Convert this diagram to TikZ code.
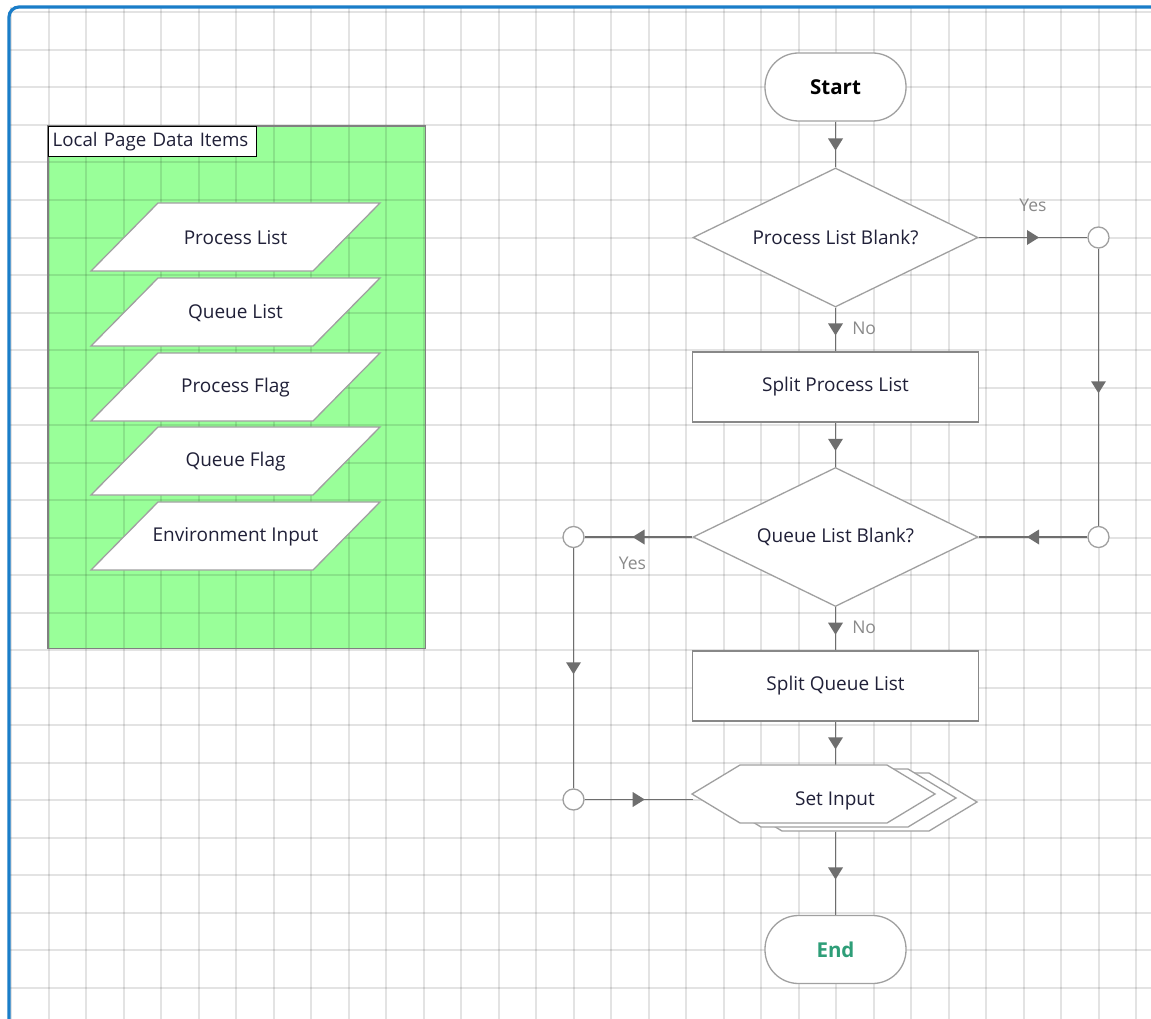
\documentclass[tikz,border=0pt]{standalone}
\usepackage{fontspec}
\setmainfont{Open Sans}
\usetikzlibrary{arrows.meta,decorations.markings,shapes.geometric}
\definecolor{linegray}{HTML}{6E6E6E}
\definecolor{bordergray}{HTML}{A0A0A0}
\definecolor{txt}{HTML}{202038}
\definecolor{lblgray}{HTML}{8A8A8A}
\definecolor{frameblue}{HTML}{1A7DC8}
\definecolor{greenbg}{HTML}{99FF99}
\definecolor{endgreen}{HTML}{2E9E78}
\pgfdeclarelayer{bglayer}
\pgfdeclarelayer{connlayer}
\pgfsetlayers{bglayer,connlayer,main}
\begin{document}
\begin{tikzpicture}[x=1pt,y=-1pt,
  conn/.style={draw=linegray,line width=1.5pt},
  midarr/.style={postaction={decorate},decoration={markings,
     mark=at position 0.5 with {\fill[linegray] (6pt,0pt) -- (-6pt,7.5pt) -- (-6pt,-7.5pt) -- cycle;}}},
  gridline/.style={draw=black,draw opacity=0.11,line width=2pt},
  terminal/.style={draw=bordergray,line width=1.3pt,fill=white,rounded corners=33.5pt,
     minimum width=141pt,minimum height=68pt,font=\fontsize{20.5}{24}\selectfont\bfseries},
  decision/.style={diamond,aspect=2,draw=bordergray,line width=1.3pt,fill=white,
     minimum width=285pt,minimum height=139pt,inner sep=1pt,text=txt,font=\fontsize{19}{22}\selectfont},
  process/.style={rectangle,draw=bordergray!85!black,line width=1.6pt,fill=white,
     minimum width=286pt,minimum height=70pt,text=txt,font=\fontsize{19}{22}\selectfont},
  connector/.style={circle,draw=bordergray,line width=1.3pt,fill=white,minimum size=21pt,inner sep=0pt},
  databox/.style={draw=bordergray,line width=1.3pt,fill=white},
  datatext/.style={text=txt,font=\fontsize{19}{22}\selectfont,inner sep=0pt},
  lbl/.style={text=lblgray,font=\fontsize{17.5}{20}\selectfont,inner sep=0pt},
  titlebox/.style={draw=black,line width=1.3pt,fill=white,text width=200pt,inner xsep=4pt,
     minimum height=30pt,align=left,text=txt,font=\fontsize{18.7}{22}\selectfont},
  hexbox/.style={draw=bordergray,line width=1.3pt,fill=white}
]
\useasboundingbox (0,0) rectangle (1151,1019);
\clip (0,0) rectangle (1151,1019);

% background, green area, grid
\begin{pgfonlayer}{bglayer}
  \fill[white] (0,0) rectangle (1151,1019);
  \node[draw=none,fill=greenbg,minimum width=377pt,minimum height=522pt,inner sep=0pt,anchor=north west] (localarea) at (48,126) {};
  \begin{scope}
    \clip (10,8) rectangle (1151,1019);
    \foreach \i in {0,...,30} {\draw[gridline] ({11+37.5*\i},0) -- ({11+37.5*\i},1019);}
    \foreach \j in {0,...,27} {\draw[gridline] (0,{12.5+37.5*\j}) -- (1151,{12.5+37.5*\j});}
  \end{scope}
  \draw[draw=gray,line width=1.5pt] (localarea.north west) rectangle (localarea.south east);
  \draw[frameblue,line width=3.2pt,rounded corners=10pt] (9,1100) -- (9,7) -- (1200,7);
\end{pgfonlayer}

% left panel: data items
\node[titlebox,anchor=north west] (title) at (48,126) {Local Page Data Items};
\foreach \nm/\yy/\tx in {dpl/237/Process List, dql/312/Queue List, dpf/387/Process Flag, dqf/461/Queue Flag, dei/536/Environment Input} {
  \draw[databox] (158,{\yy-34}) -- (380,{\yy-34}) -- (313,{\yy+34}) -- (91,{\yy+34}) -- cycle;
  \node[datatext] (\nm) at (235.5,{\yy+1}) {\tx};
}

% flowchart nodes
\node[terminal,text=black] (start) at (835.5,87) {Start};
\node[decision] (d1) at (835.5,237.5) {Process List Blank?};
\node[process] (p1) at (835.5,387) {Split Process List};
\node[decision] (d2) at (835.5,537) {Queue List Blank?};
\node[process] (p2) at (835.5,686) {Split Queue List};
\node[minimum width=285pt,minimum height=58pt,inner sep=0pt] (setin) at (835.5,794) {};
\coordinate (setbot) at (835.5,832);
\node[terminal,text=endgreen] (end) at (835.5,949.5) {End};
\node[connector] (c1) at (1098.5,237.5) {};
\node[connector] (c2) at (1098.5,537) {};
\node[connector] (c3) at (573.5,537) {};
\node[connector] (c4) at (573.5,799.5) {};

% Set Input stacked hexagons
\foreach \dx/\dy in {42/8,21/4,0/0} {
  \draw[hexbox] ({692+\dx},{794+\dy}) -- ({740+\dx},{765+\dy}) -- ({887+\dx},{765+\dy}) -- ({935+\dx},{794+\dy}) -- ({887+\dx},{823+\dy}) -- ({740+\dx},{823+\dy}) -- cycle;
}
\node[datatext] (setintext) at (835,801) {Set Input};

% connectors
\begin{pgfonlayer}{connlayer}
  \draw[conn,midarr] (start) -- (d1);
  \draw[conn,midarr] (d1.east) -- node[lbl,yshift=32pt]{Yes} (c1);
  \draw[conn,midarr] (c1) -- (c2);
  \draw[conn,midarr] (c2) -- (d2.east);
  \draw[conn,midarr] (d1) -- node[lbl,anchor=west,xshift=16pt,yshift=1pt]{No} (p1);
  \draw[conn,midarr] (p1) -- (d2);
  \draw[conn,midarr] (d2.west) -- node[lbl,yshift=-26pt,xshift=-6pt]{Yes} (c3);
  \draw[conn,midarr] (c3) -- (c4);
  \draw[conn,midarr] (c4) -- (c4 -| setin.west);
  \draw[conn,midarr] (d2) -- node[lbl,anchor=west,xshift=16pt,yshift=1pt]{No} (p2);
  \draw[conn,midarr] (p2) -- (setin);
  \draw[conn,midarr] (setbot) -- (end);
\end{pgfonlayer}
\end{tikzpicture}
\end{document}
